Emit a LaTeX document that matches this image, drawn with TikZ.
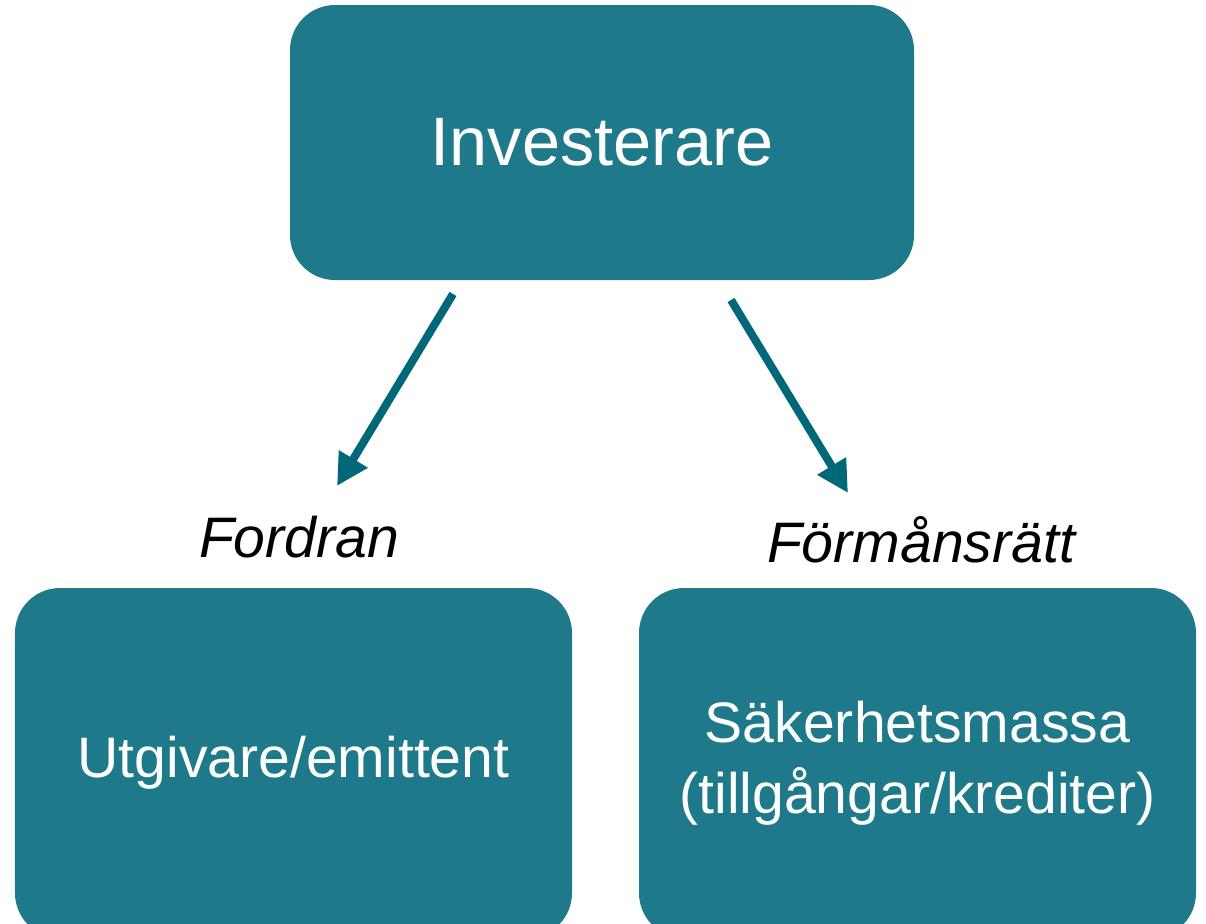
\documentclass[tikz,border=0pt]{standalone}
\usepackage{fontspec}
\setmainfont{Liberation Sans}
\usetikzlibrary{arrows.meta}
\definecolor{boxteal}{RGB}{30,122,138}
\definecolor{arrowteal}{RGB}{0,104,120}

\begin{document}
\begin{tikzpicture}[
    box/.style={draw=none, fill=boxteal, rounded corners=0.9cm, text=white, align=center, inner sep=0pt},
    pil/.style={draw=arrowteal, line width=4.6pt, -{Triangle[length=18pt,width=18pt]}},
    etikett/.style={font=\fontsize{32.5}{38}\selectfont\itshape}
]
    \useasboundingbox (0,0) rectangle (24.12,-18.46);

    \node[box, minimum width=12.48cm, minimum height=5.5cm, font=\fontsize{39}{46}\selectfont] (inv) at (12.04,-2.85) {Investerare};
    \node[box, minimum width=11.14cm, minimum height=7cm, font=\fontsize{32.5}{40.5}\selectfont] (utg) at (5.87,-15.26) {Utgivare/emittent};
    \node[box, minimum width=11.14cm, minimum height=7cm, font=\fontsize{32.5}{40.5}\selectfont] (sak) at (18.35,-15.26) {Säkerhetsmassa\\(tillgångar/krediter)};

    \node[etikett] (fordran) at (5.98,-10.74) {Fordran};
    \node[etikett] (forman) at (18.42,-10.8) {Förmånsrätt};

    \coordinate (v1) at (9.06,-5.88);
    \coordinate (v2) at (6.74,-9.72);
    \coordinate (h1) at (14.62,-6.0);
    \coordinate (h2) at (16.96,-9.86);
    \draw[pil] (v1) -- (v2);
    \draw[pil] (h1) -- (h2);

\end{tikzpicture}
\end{document}
